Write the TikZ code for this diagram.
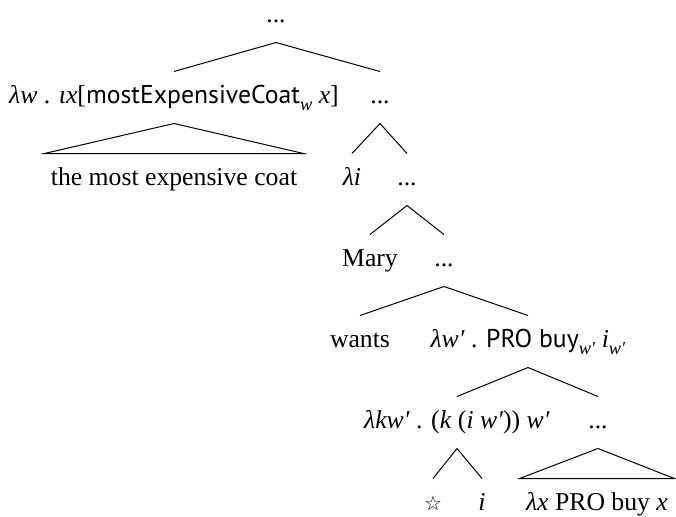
\documentclass[tikz,border=0pt]{standalone}
\usepackage{fontspec}
\setmainfont{Liberation Serif}
\setsansfont{PT Sans}
\newfontfamily\symbfont{DejaVu Sans}
\usetikzlibrary{positioning}

\newcommand{\tv}[1]{\textit{#1}}
\newcommand{\lowr}[1]{\raisebox{-3.6pt}{\fontsize{9.2}{10}\selectfont\textit{#1}}}
\newcommand{\dts}{...}

\begin{document}
\begin{tikzpicture}[x=0.5pt,y=-0.5pt,line width=0.5pt,
  lbl/.style={anchor=base,inner xsep=0pt,inner ysep=0pt,text height=15.5pt,text depth=10pt,font=\fontsize{12.85}{15}\selectfont},
  roof/.style={lbl,inner xsep=3pt}]
\useasboundingbox (0,0) rectangle (676,516);
% levels, by baseline
\node[lbl]  (root)  at (276,22)  {\dts};
\node[lbl]  (lw)    at (174,103) {\tv{λw} . \tv{ιx}[\textsf{mostExpensiveCoat}\lowr{w} \tv{x}]};
\node[lbl]  (d1)    at (380,103) {\dts};
\node[roof] (coat)  at (174,185) {the most expensive coat};
\node[lbl]  (li)    at (352,185) {\tv{λi}};
\node[lbl]  (d2)    at (407,185) {\dts};
\node[lbl]  (mary)  at (370,266) {Mary};
\node[lbl]  (d3)    at (444,266) {\dts};
\node[lbl]  (wants) at (360,347) {wants};
\node[lbl]  (pro)   at (528,347) {\tv{λw′} . \textsf{PRO buy}\lowr{w′} \tv{i}\lowr{w′}};
\node[lbl]  (lkw)   at (457,428) {\tv{λkw′} . (\tv{k} (\tv{i w′})) \tv{w′}};
\node[lbl]  (d5)    at (598,428) {\dts};
\node[lbl]  (star)  at (433,510) {\symbfont\fontsize{10}{12}\selectfont ☆};
\node[lbl]  (iv)    at (482,510) {\tv{i}};
\node[roof] (lx)    at (597,510) {\tv{λx} PRO buy \tv{x}};
% branches
\foreach \p/\c in {root/lw,root/d1,d1/li,d1/d2,d2/mary,d2/d3,d3/wants,d3/pro,pro/lkw,pro/d5,lkw/star,lkw/iv}
  \draw (\p.south) -- (\c.north);
% roofs
\foreach \p/\c in {lw/coat,d5/lx}
  \draw (\c.north west) -- (\p.south) -- (\c.north east) -- cycle;
\end{tikzpicture}
\end{document}
